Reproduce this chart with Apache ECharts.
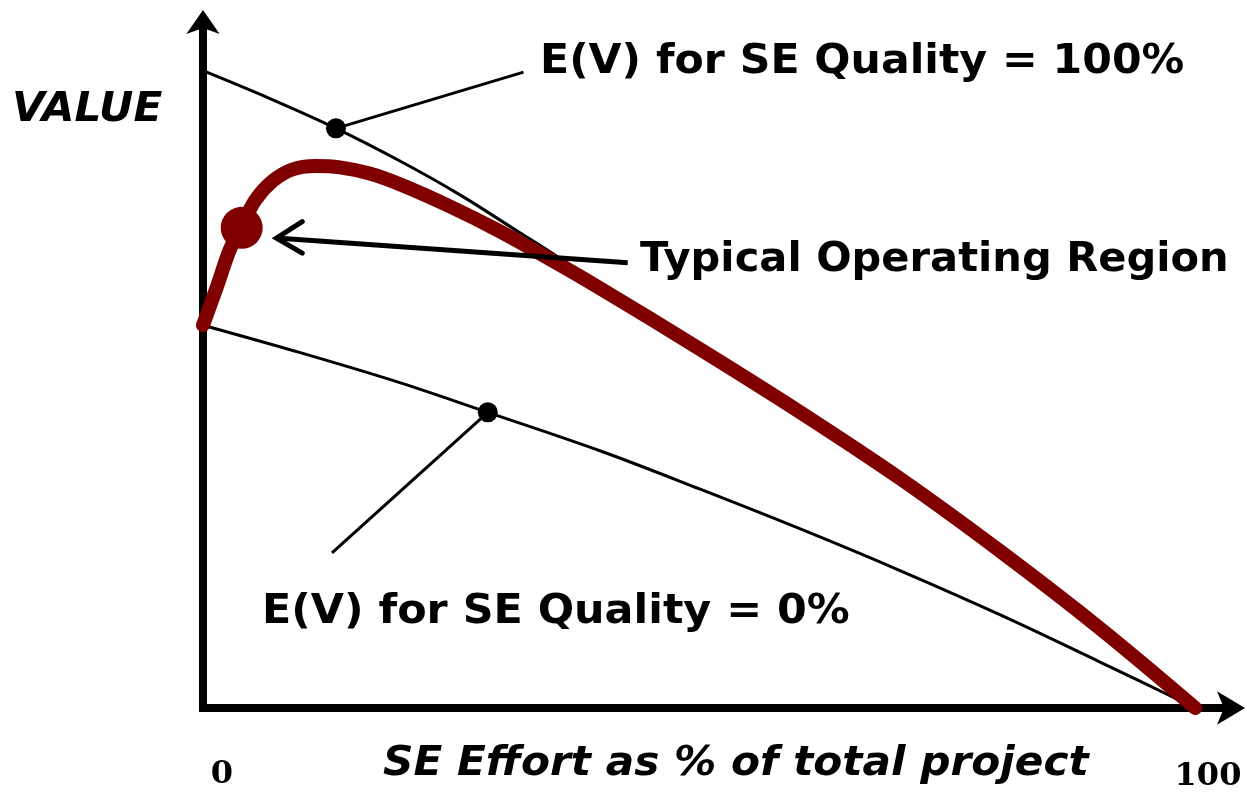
<!DOCTYPE html>
<html>
<head>
<meta charset="utf-8">
<title>SE Effort vs Value</title>
<script src="https://cdn.jsdelivr.net/npm/echarts@6/dist/echarts.min.js"></script>
<style>
  html, body { margin: 0; padding: 0; background: #fff; }
  #main { width: 1247px; height: 792px; }
</style>
</head>
<body>
<div id="main"></div>
<script>
// curve values (x = SE effort %, y = value)
let redX = [0, 1.4, 2.7, 3.9, 5.3, 7.0, 9.0, 11.3, 13.8, 16.8, 19.9, 24.9, 29.9, 35, 40, 50.1, 60.2, 70.3, 80.3, 90.4, 100]
let redY = [55.8, 61.4, 66.8, 70.3, 74.1, 76.8, 78.5, 79.0, 78.8, 77.9, 76.3, 73.1, 69.5, 65.4, 61.2, 52.3, 43.1, 33.4, 22.9, 11.6, 0]

let upperX = [0, 6.8, 13.4, 19.9, 25.9, 31.9, 35.9, 40, 50.1, 60.2, 70.3, 80.3, 90.4, 100]
let upperY = [92.9, 88.8, 84.5, 79.7, 74.8, 69.3, 65.6, 61.2, 52.3, 43.1, 33.4, 22.9, 11.6, 0]

let lowerX = [0, 9.8, 19.9, 28.7, 40, 50.1, 60.2, 70.3, 80.3, 90.4, 100]
let lowerY = [55.8, 51.8, 47.4, 43.1, 37.5, 31.9, 26.1, 20.0, 13.6, 6.7, 0]

// marked points
let upperDot = [13.4, 84.5]
let lowerDot = [28.7, 43.1]
let operatingDot = [3.9, 70.0]

// leader lines / arrow for the annotations
let upperLeader = [[13.4, 84.5], [32.3, 92.7]]
let lowerLeader = [[28.7, 43.1], [13, 22.6]]
let regionArrow = [[42.8, 64.9], [7.4, 68.5]]
let regionArrowHead = [[10.0, 70.9], [7.4, 68.5], [10.0, 66.3]]

let xTicks = ['0', '100']

function pairs(xs, ys) {
  return xs.map((x, i) => [x, ys[i]])
}

let chart = echarts.init(document.getElementById('main'))

let mainFont = 'bold 41px "DejaVu Sans"'
let titleFont = 'italic bold 41px "DejaVu Sans"'
let tickFont = 'bold 32px "DejaVu Serif"'

let thinLine = {
  type: 'line',
  showSymbol: false,
  symbol: 'none',
  silent: true,
  lineStyle: {color: '#000', width: 3}
}

chart.setOption({
  animation: false,
  grid: {left: 203, right: 14, top: 22, bottom: 84},
  xAxis: {
    type: 'value',
    min: 0,
    max: 103.8,
    splitLine: {show: false},
    axisTick: {show: false},
    axisLabel: {show: false},
    axisLine: {
      onZero: false,
      symbol: ['none', 'arrow'],
      symbolSize: [25, 28],
      symbolOffset: [0, 12],
      lineStyle: {color: '#000', width: 8, cap: 'square'}
    }
  },
  yAxis: {
    type: 'value',
    min: 0,
    max: 100,
    splitLine: {show: false},
    axisTick: {show: false},
    axisLabel: {show: false},
    axisLine: {
      symbol: ['none', 'arrow'],
      symbolSize: [25, 24],
      symbolOffset: [0, 12],
      lineStyle: {color: '#000', width: 8, cap: 'square'}
    }
  },
  series: [
    Object.assign({}, thinLine, {name: 'upper', smooth: 0.35, data: pairs(upperX, upperY), z: 2}),
    Object.assign({}, thinLine, {name: 'lower', smooth: 0.35, data: pairs(lowerX, lowerY), z: 2}),
    Object.assign({}, thinLine, {name: 'upperLeader', data: upperLeader, z: 2}),
    Object.assign({}, thinLine, {name: 'lowerLeader', data: lowerLeader, z: 2}),
    Object.assign({}, thinLine, {name: 'arrow', data: regionArrow, z: 4, lineStyle: {color: '#000', width: 5}}),
    Object.assign({}, thinLine, {name: 'arrowHead', data: regionArrowHead, z: 4,
      lineStyle: {color: '#000', width: 5, join: 'miter', cap: 'round'}}),
    {
      name: 'typical',
      type: 'line',
      smooth: 0.35,
      symbol: 'none',
      data: pairs(redX, redY),
      lineStyle: {color: '#800000', width: 14, cap: 'round'},
      z: 3
    },
    {
      name: 'dots',
      type: 'scatter',
      symbolSize: 20,
      itemStyle: {color: '#000', opacity: 1},
      data: [upperDot, lowerDot],
      z: 5
    },
    {
      name: 'operating',
      type: 'scatter',
      symbolSize: 42,
      itemStyle: {color: '#800000', opacity: 1},
      data: [operatingDot],
      z: 5
    }
  ],
  graphic: [
    {type: 'text', x: 540, y: 62, scaleX: 1.04, style: {text: 'E(V) for SE Quality = 100%', font: mainFont, fill: '#000', verticalAlign: 'middle'}},
    {type: 'text', x: 640, y: 260, scaleX: 1.015, style: {text: 'Typical Operating Region', font: mainFont, fill: '#000', verticalAlign: 'middle'}},
    {type: 'text', x: 262, y: 612, scaleX: 1.045, style: {text: 'E(V) for SE Quality = 0%', font: mainFont, fill: '#000', verticalAlign: 'middle'}},
    {type: 'text', x: 12, y: 110, scaleX: 1.03, style: {text: 'VALUE', font: titleFont, fill: '#000', verticalAlign: 'middle'}},
    {type: 'text', x: 383, y: 764, scaleX: 1.03, style: {text: 'SE Effort as % of total project', font: titleFont, fill: '#000', verticalAlign: 'middle'}},
    {type: 'text', x: 222, y: 775, style: {text: xTicks[0], font: tickFont, fill: '#000', align: 'center', verticalAlign: 'middle'}},
    {type: 'text', x: 1208, y: 777, style: {text: xTicks[1], font: tickFont, fill: '#000', align: 'center', verticalAlign: 'middle'}}
  ]
})
</script>
</body>
</html>
